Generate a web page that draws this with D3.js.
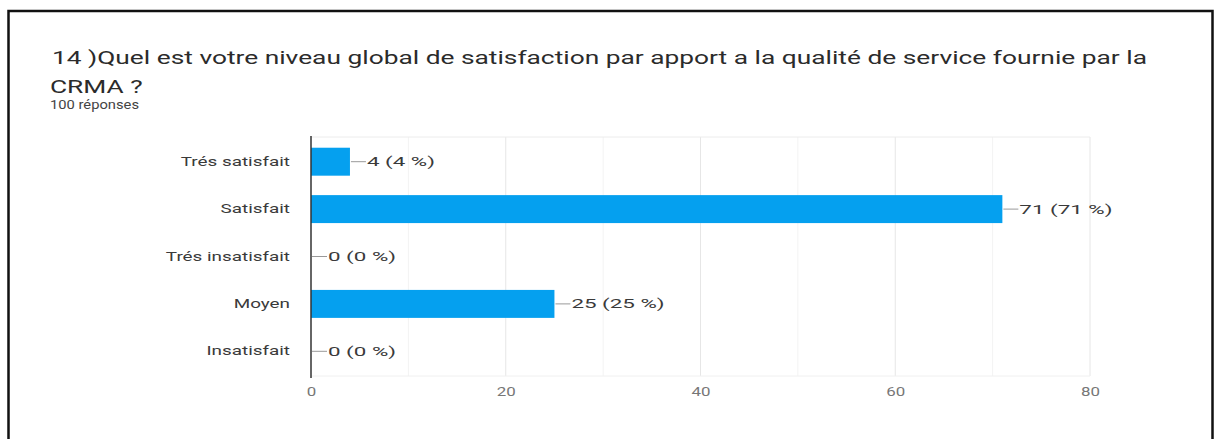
<!DOCTYPE html>
<html>
<head>
<meta charset="utf-8">
<script src="https://cdn.jsdelivr.net/npm/d3@7"></script>
<style>
  html, body { margin: 0; padding: 0; background: #fff; }
  svg { display: block; }
</style>
</head>
<body>
<svg id="chart" width="1218" height="439"></svg>
<script>
// Survey answers: question 14, overall satisfaction with CRMA's service
const categories = ["Trés satisfait", "Satisfait", "Trés insatisfait", "Moyen", "Insatisfait"];
const counts = [4, 71, 0, 25, 0];
const totalResponses = 100;
const xTicks = [0, 20, 40, 60, 80];
const xMinorTicks = [10, 30, 50, 70];
const titleLine1 = "14 )Quel est votre niveau global de satisfaction par apport a la qualité de service fournie par la";
const titleLine2 = "CRMA ?";
const subtitle = totalResponses + " réponses";

const svg = d3.select("#chart");
const font = "Roboto, 'Noto Sans', Arial, sans-serif";

// widen glyphs of a text selection by factor k
function widen(sel, k) {
  sel.each(function () {
    const w = this.getComputedTextLength();
    d3.select(this).attr("textLength", w * k).attr("lengthAdjust", "spacingAndGlyphs");
  });
}

// outer frame
svg.append("rect")
  .attr("x", 8.5).attr("y", 11)
  .attr("width", 1204).attr("height", 440)
  .attr("fill", "none").attr("stroke", "#111").attr("stroke-width", 2.5);

// heading, stretched to span the header width
const title = svg.append("text")
  .attr("x", 52).attr("y", 64)
  .attr("font-family", font).attr("font-size", 19)
  .attr("fill", "#2b2b2b")
  .text(titleLine1);
const titleK = 1095 / title.node().getComputedTextLength();
title.attr("textLength", 1095).attr("lengthAdjust", "spacingAndGlyphs");
svg.append("text")
  .attr("x", 50).attr("y", 93)
  .attr("font-family", font).attr("font-size", 19)
  .attr("fill", "#2b2b2b")
  .text(titleLine2)
  .call(widen, titleK);
svg.append("text")
  .attr("x", 50).attr("y", 109)
  .attr("font-family", font).attr("font-size", 12)
  .attr("fill", "#444")
  .attr("textLength", 89).attr("lengthAdjust", "spacingAndGlyphs")
  .text(subtitle);

// scales
const x = d3.scaleLinear().domain([0, 80]).range([311, 1090]);
const y = d3.scaleBand().domain(categories).range([138, 375])
  .paddingInner(0.41).paddingOuter(0.205);

// grid
const grid = svg.append("g");
grid.selectAll("line.minor").data(xMinorTicks).join("line")
  .attr("class", "minor")
  .attr("x1", d => x(d)).attr("x2", d => x(d))
  .attr("y1", 137).attr("y2", 376)
  .attr("stroke", "#f3f3f3").attr("stroke-width", 1);
grid.selectAll("line.major").data(xTicks.slice(1)).join("line")
  .attr("class", "major")
  .attr("x1", d => x(d)).attr("x2", d => x(d))
  .attr("y1", 137).attr("y2", 376)
  .attr("stroke", "#e6e6e6").attr("stroke-width", 1);
grid.append("line")
  .attr("x1", x(0)).attr("x2", x(80))
  .attr("y1", 137).attr("y2", 137)
  .attr("stroke", "#ececec");
grid.append("line")
  .attr("x1", x(0)).attr("x2", x(80))
  .attr("y1", 376).attr("y2", 376)
  .attr("stroke", "#f0f0f0");

// bars
svg.append("g").selectAll("rect").data(categories).join("rect")
  .attr("x", x(0))
  .attr("y", d => y(d))
  .attr("width", (d, i) => x(counts[i]) - x(0))
  .attr("height", y.bandwidth())
  .attr("fill", "#05a0ef");

// value annotations: short leader line then "n (p %)"
const ann = svg.append("g");
ann.selectAll("line").data(categories).join("line")
  .attr("x1", (d, i) => x(counts[i]) + 1)
  .attr("x2", (d, i) => x(counts[i]) + 16)
  .attr("y1", d => y(d) + y.bandwidth() / 2)
  .attr("y2", d => y(d) + y.bandwidth() / 2)
  .attr("stroke", "#999").attr("stroke-width", 1);
ann.selectAll("text").data(categories).join("text")
  .attr("x", (d, i) => x(counts[i]) + 17)
  .attr("y", d => y(d) + y.bandwidth() / 2)
  .attr("dy", "0.35em")
  .attr("font-family", font).attr("font-size", 13)
  .attr("fill", "#3a3a3a")
  .text((d, i) => `${counts[i]} (${Math.round(counts[i] / totalResponses * 100)} %)`)
  .call(widen, 1.72);

// category axis
const yAxis = svg.append("g")
  .attr("transform", `translate(${x(0)},0)`)
  .call(d3.axisLeft(y).tickSize(0).tickPadding(21));
yAxis.select(".domain").remove();
yAxis.selectAll("text")
  .attr("font-family", font).attr("font-size", 13)
  .attr("fill", "#3a3a3a")
  .call(widen, 1.45);
svg.append("line")
  .attr("x1", x(0)).attr("x2", x(0))
  .attr("y1", 136).attr("y2", 378)
  .attr("stroke", "#333").attr("stroke-width", 1.5);

// value axis
const xAxis = svg.append("g")
  .attr("transform", "translate(0,376)")
  .call(d3.axisBottom(x).tickValues(xTicks).tickSize(0).tickPadding(11));
xAxis.select(".domain").remove();
xAxis.selectAll("text")
  .attr("font-family", font).attr("font-size", 13)
  .attr("fill", "#777")
  .call(widen, 1.3);
</script>
</body>
</html>
